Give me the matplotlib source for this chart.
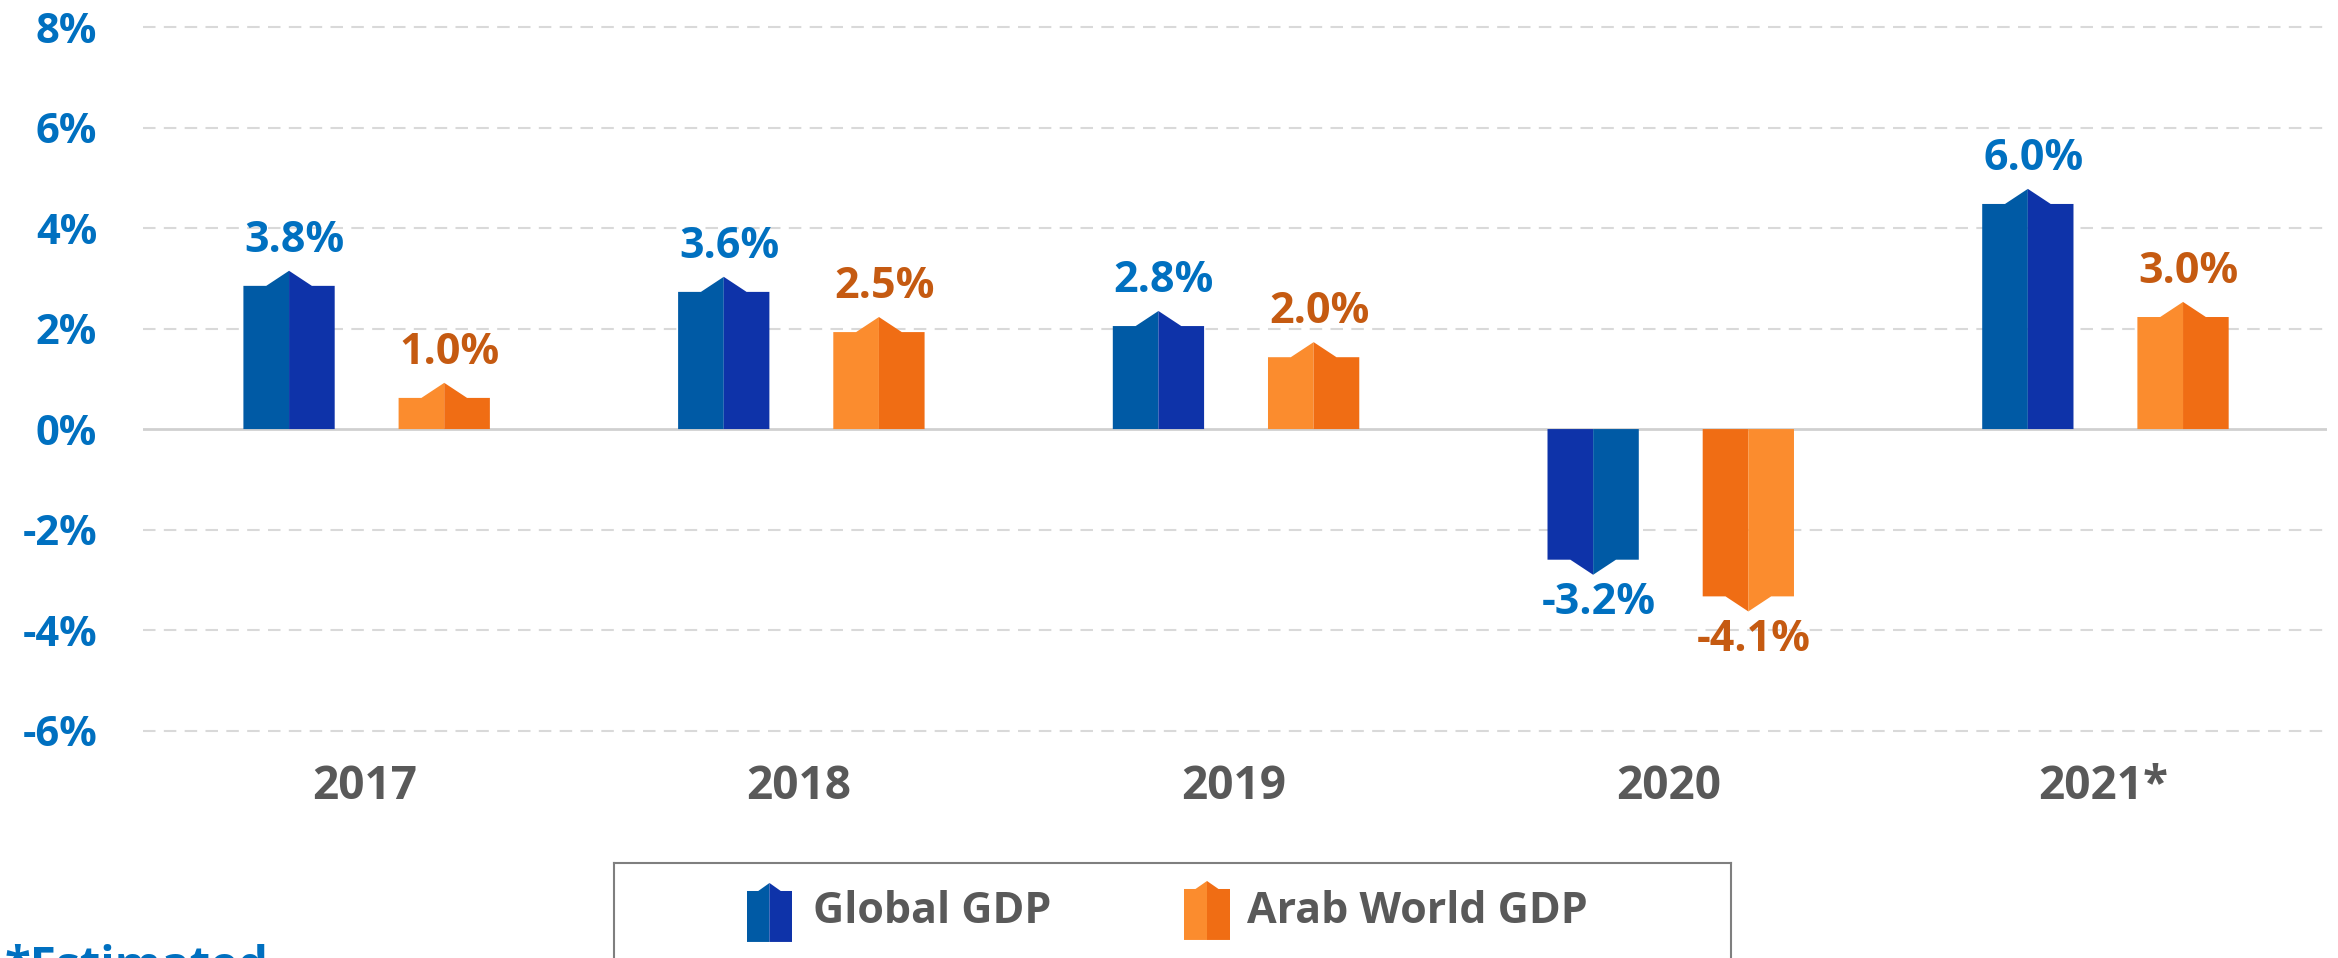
import matplotlib.pyplot as plt
import numpy as np

plt.rcParams['font.family'] = ['Open Sans', 'DejaVu Sans']
plt.rcParams['font.weight'] = 'bold'

years = ['2017', '2018', '2019', '2020', '2021*']
global_labels = ['3.8%', '3.6%', '2.8%', '-3.2%', '6.0%']
arab_labels = ['1.0%', '2.5%', '2.0%', '-4.1%', '3.0%']
# heights of the bars as drawn (shoulder of the arrow shape)
global_heights = [2.85, 2.73, 2.05, -2.60, 4.48]
arab_heights = [0.62, 1.93, 1.43, -3.33, 2.23]
y_ticks = [-6, -4, -2, 0, 2, 4, 6, 8]

BLUE_LIGHT, BLUE_DARK = '#005aa5', '#0e33a9'
ORANGE_LIGHT, ORANGE_DARK = '#fb8c2e', '#f06d14'
BLUE_TEXT, ORANGE_TEXT, GREY_TEXT = '#0070c0', '#c55a11', '#595959'


def arrow_bar(ax, x, h, width, light, dark, tip=0.3, base=0.0):
    """Two-tone bar with a pointed end, returns the tip position."""
    s = 1 if h >= base else -1
    left, right = x - width / 2, x + width / 2
    top = h + s * tip
    c_left, c_right = (light, dark) if s > 0 else (dark, light)
    ax.fill([left, left, x - width / 4, x, x], [base, h, h, top, base],
            color=c_left, lw=0, zorder=3)
    ax.fill([x, x, x + width / 4, right, right], [base, top, h, h, base],
            color=c_right, lw=0, zorder=3)
    return top


fig = plt.figure(figsize=(23.38, 9.58), dpi=100)
ax = fig.add_axes([0.06116, 0.2217, 0.9341, 0.7710])

x = np.arange(len(years))
bar_w = 0.21
for i in x:
    for h, lab, off, light, dark, tcol in [
        (global_heights[i], global_labels[i], -0.173, BLUE_LIGHT, BLUE_DARK, BLUE_TEXT),
        (arab_heights[i], arab_labels[i], 0.184, ORANGE_LIGHT, ORANGE_DARK, ORANGE_TEXT),
    ]:
        tip = arrow_bar(ax, i + off, h, bar_w, light, dark)
        dy = 22 if h >= 0 else -20
        ax.annotate(lab, (i + off, tip), xytext=(4, dy), textcoords='offset points',
                    ha='center', va='center', fontsize=31, color=tcol,
                    fontweight='bold')
    ax.text(i, -7.12, years[i], ha='center', va='center', fontsize=33,
            color=GREY_TEXT, fontweight='bold', clip_on=False)

ax.set_xlim(-0.509, 4.515)
ax.set_ylim(-6.3, 8.4)
ax.set_yticks(y_ticks)
ax.set_yticklabels([f'{t}%' for t in y_ticks], fontsize=30, color=BLUE_TEXT,
                   fontweight='bold')
ax.tick_params(axis='y', length=0, pad=33)
ax.set_xticks([])
for t in y_ticks:
    if t == 0:
        ax.axhline(0, color='#d0d0d0', lw=2, zorder=2)
    else:
        ax.axhline(t, color='#d9d9d9', lw=1.5, ls=(0, (6, 4)), zorder=1)
for sp in ax.spines.values():
    sp.set_visible(False)

# legend box, drawn in pixel-like units (y measured up from the bottom edge)
lax = fig.add_axes([614 / 2338, -0.05, (1731 - 614) / 2338, 0.14916])
lax.set_xlim(614, 1731)
lax.set_ylim(-48, 95)
lax.set_xticks([])
lax.set_yticks([])
for sp in lax.spines.values():
    sp.set_color('#7f7f7f')
    sp.set_linewidth(1.5)
arrow_bar(lax, 769.5, 67, 45, BLUE_LIGHT, BLUE_DARK, tip=8, base=16)
arrow_bar(lax, 1207, 69, 46, ORANGE_LIGHT, ORANGE_DARK, tip=8, base=18)
lax.text(813, 46, 'Global GDP', va='center', ha='left', fontsize=31,
         color=GREY_TEXT, fontweight='bold')
lax.text(1247, 46, 'Arab World GDP', va='center', ha='left', fontsize=31,
         color=GREY_TEXT, fontweight='bold')

fig.text(0.002, 1 - 944 / 958, '*Estimated', va='top', ha='left', fontsize=34,
         color=BLUE_TEXT, fontweight='bold')

fig.savefig('out.png', dpi=100)
